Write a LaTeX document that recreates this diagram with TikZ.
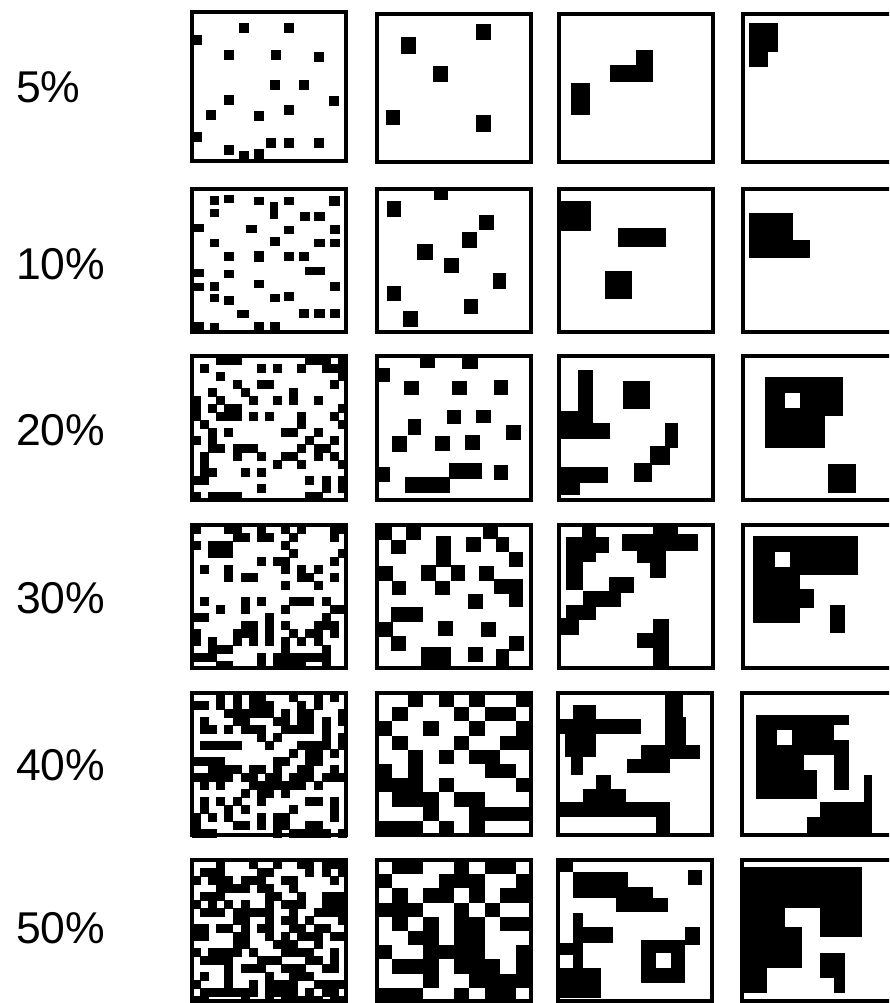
\documentclass[tikz,border=0pt]{standalone}
\usepackage{fontspec}
\setmainfont{Liberation Sans}

% black patches given as x1/y1/x2/y2 inside one panel
\newcommand{\blocks}[1]{\foreach \xa/\ya/\xb/\yb in {#1} \fill (\xa,\ya) rectangle (\xb,\yb);}
\newcommand{\holes}[1]{\foreach \xa/\ya/\xb/\yb in {#1} \fill[white] (\xa,\ya) rectangle (\xb,\yb);}
% small squares of one size
\newcommand{\specks}[2]{\foreach \xa/\ya in {#2} \fill (\xa,\ya) rectangle ++(#1,#1);}
% cells of a grid: width, height, list c/r
\newcommand{\cells}[3]{\foreach \c/\r in {#3} \fill (\c*#1,\r*#2) rectangle ++(#1,#2);}
% fine random grain: seed, share
\newcommand{\grain}[2]{%
  \pgfmathsetseed{#1}%
  \foreach \c in {0,...,18}{\foreach \r in {0,...,17}{%
    \pgfmathtruncatemacro\on{rnd<#2}%
    \ifnum\on=1 \fill (\c*8.1,\r*8) rectangle ++(9,9);\fi}}}
% one framed panel: left, top, height, content
\newcommand{\panel}[4]{%
  \begin{scope}[shift={(#1,#2)}]
    #4
    \draw[frame] (0,0) rectangle (154,#3);
  \end{scope}}

\begin{document}
\begin{tikzpicture}[x=0.03cm, y=-0.03cm,
    frame/.style={line width=3pt},
    share/.style={anchor=west, inner sep=0pt, font=\fontsize{38}{40}\selectfont}
]
\useasboundingbox (0,0) rectangle (889,1003);
\clip (0,0) rectangle (889,1003);

% Anteile
\node[share] (p5)  at (16,87)  {5\%};
\node[share] (p10) at (16,264) {10\%};
\node[share] (p20) at (16,430) {20\%};
\node[share] (p30) at (16,598) {30\%};
\node[share] (p40) at (16,765) {40\%};
\node[share] (p50) at (16,928) {50\%};

% Reihe 5%
\panel{192}{12}{149}{\specks{10}{47/11, 92/11, 0/23, 32/38, 79/38, 122/40, 78/68, 107/68, 32/83,
  137/84, 92/93, 14/98, 62/99, 0/120, 32/133, 47/139, 62/137, 74/126, 92/126, 122/126}}
\panel{377}{14}{148}{\blocks{24/23/39/40, 99/10/114/26, 56/52/71/68, 9/96/23/111, 99/101/114/118}}
\panel{559}{14}{148}{\blocks{12/69/31/101, 51/51/94/68, 77/36/94/51}}
\panel{743}{14}{148}{\blocks{6/9/35/38, 6/38/25/53}}

% Reihe 10%
\panel{192}{189}{143}{\blocks{18/7/27/16, 32/6/42/14, 62/8/72/16, 78/13/86/30, 92/8/102/16,
  137/7/148/17, 18/20/27/28, 108/23/118/32, 122/23/133/32, 0/35/12/43, 54/36/65/44,
  92/37/102/45, 138/36/148/45, 18/50/27/58, 78/48/88/57, 122/50/133/58, 138/50/148/58,
  32/63/42/72, 62/62/72/73, 92/63/102/72, 107/63/117/72, 113/78/133/86, 0/80/12/88,
  32/81/42/89, 0/94/12/102, 18/93/27/102, 62/91/72/99, 138/93/148/102, 18/105/27/113,
  32/107/42/116, 78/105/88/113, 92/103/102/112, 45/121/57/129, 107/120/117/129,
  122/120/133/129, 138/120/148/129, 0/133/12/142, 18/134/27/142, 62/133/72/142, 78/133/88/142}}
\panel{377}{189}{143}{\blocks{57/0/71/11, 10/12/24/28, 102/26/117/41, 85/43/100/59, 40/55/56/71,
  67/69/82/84, 116/84/129/100, 10/97/24/112, 87/110/101/125, 26/122/41/138}}
\panel{559}{189}{143}{\blocks{0/12/32/42, 59/39/107/58, 46/82/73/110}}
\panel{743}{189}{143}{\blocks{6/24/50/69, 50/51/67/69}}

% Reihe 20%
\panel{192}{356}{144}{\grain{17}{0.24}}
\panel{377}{356}{144}{\blocks{43/0/58/12, 85/0/101/13, 0/12/13/26, 27/25/42/39, 75/25/90/39,
  117/24/131/39, 70/54/84/68, 99/54/114/67, 31/63/44/79, 129/69/144/84, 15/80/30/96,
  58/80/73/95, 88/79/103/94, 0/111/13/126, 72/107/105/123, 117/109/131/124, 28/121/73/137}}
\panel{559}{356}{144}{\blocks{19/14/34/56, 0/55/34/83, 34/67/51/83, 64/25/91/53, 106/67/119/92,
  91/90/111/109, 75/107/93/126, 0/111/49/127, 0/127/21/139}}
\panel{743}{356}{144}{\blocks{22/21/100/60, 22/60/82/92, 85/108/113/137}\holes{42/37/57/52}}

% Reihe 30%
\panel{192}{525}{143}{\grain{29}{0.34}}
\panel{377}{525}{143}{\blocks{0/0/15/15, 29/0/44/15, 14/15/29/29, 59/11/74/42, 44/40/59/56,
  74/40/88/56, 58/56/73/70, 89/12/104/27, 106/0/121/14, 119/12/132/27, 132/27/146/42,
  0/41/16/56, 15/56/29/70, 102/41/117/56, 117/54/146/69, 132/69/146/82, 91/69/106/84,
  14/82/46/97, 0/97/16/112, 14/111/29/126, 61/96/76/111, 104/97/119/112, 132/111/147/126,
  119/124/132/143, 44/122/74/143, 91/122/106/137}}
\panel{559}{525}{143}{\blocks{23/0/37/12, 7/12/50/28, 7/28/37/37, 7/37/24/65, 63/9/139/26,
  94/0/119/9, 78/26/107/38, 91/38/107/53, 50/52/75/68, 24/66/62/82, 7/80/37/95,
  0/93/20/110, 94/94/110/143, 78/108/94/123}}
\panel{743}{525}{143}{\blocks{10/11/115/50, 10/50/57/98, 57/64/71/83, 87/80/102/108}\holes{32/27/47/42}}

% Reihe 40%
\panel{192}{693}{142}{\grain{41}{0.43}}
\panel{377}{693}{142}{\cells{15.4}{14.2}{2/0, 4/0, 6/0, 9/0, 1/1, 5/1, 7/1, 8/1, 0/2, 3/2, 6/2, 9/2,
  1/3, 5/3, 8/3, 9/3, 2/4, 4/4, 6/4, 7/4, 0/5, 2/5, 7/5, 8/5, 0/6, 1/6, 2/6, 4/6, 9/6,
  1/7, 2/7, 3/7, 5/7, 6/7, 3/8, 6/8, 7/8, 8/8, 9/8, 0/9, 1/9, 2/9, 4/9, 6/9}}
\panel{558}{693}{142}{\blocks{15/12/38/26, 1/26/83/41, 7/41/38/64, 13/64/25/82, 107/0/125/24,
  107/24/128/52, 83/52/142/66, 69/66/112/80, 38/82/53/96, 25/96/68/109, 1/109/112/124,
  98/124/112/142}}
\panel{742}{693}{142}{\blocks{14/22/62/106, 62/22/107/32, 62/32/92/62, 62/77/75/106, 92/47/107/97,
  122/82/130/142, 78/109/130/142, 65/124/130/142}\holes{35/37/50/52}}

% Reihe 50%
\panel{192}{860}{141}{\grain{53}{0.5}}
\panel{377}{860}{141}{\cells{15.4}{14.2}{1/0, 2/0, 5/0, 7/0, 8/0, 0/1, 4/1, 5/1, 6/1, 9/1,
  1/2, 3/2, 4/2, 6/2, 8/2, 9/2, 0/3, 1/3, 2/3, 5/3, 7/3, 1/4, 3/4, 5/4, 6/4, 8/4, 9/4,
  2/5, 3/5, 5/5, 6/5, 0/6, 3/6, 4/6, 5/6, 6/6, 9/6, 1/7, 2/7, 3/7, 5/7, 6/7, 7/7, 9/7,
  3/8, 6/8, 7/8, 8/8, 9/8, 0/9, 1/9, 2/9, 5/9, 7/9, 8/9}}
\panel{558}{860}{141}{\blocks{1/0/15/12, 15/12/70/27, 15/27/95/38, 58/38/110/52, 130/10/144/25,
  15/53/25/128, 15/67/55/83, 1/83/25/95, 15/95/25/108, 1/108/43/138, 83/80/127/123,
  127/67/142/85}\holes{98/93/113/108}}
\panel{742}{860}{141}{\blocks{2/7/120/48, 2/48/43/108, 43/67/60/108, 2/108/25/133, 78/48/120/77,
  78/93/103/118, 92/118/103/133}}

\end{tikzpicture}
\end{document}
